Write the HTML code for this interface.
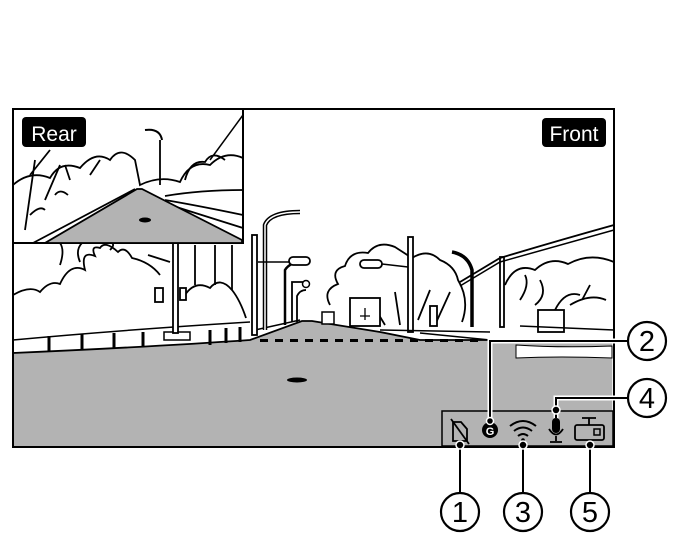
<!DOCTYPE html>
<html><head><meta charset="utf-8"><style>
html,body{margin:0;padding:0;background:#fff;}
svg{display:block}
text{font-family:"Liberation Sans",sans-serif}
</style></head><body>
<svg width="686" height="556" viewBox="0 0 686 556" xmlns="http://www.w3.org/2000/svg">
<rect x="0" y="0" width="686" height="556" fill="#fff"/>
<!-- main gray ground -->
<path d="M13 353 Q150 347 250 340 L302 321 L312 321 L380 332 L420 340 L614 340 L614 447 L13 447 Z" fill="#b3b3b3" stroke="#000" stroke-width="1.8"/>
<!-- trees main left -->
<g fill="none" stroke="#000" stroke-width="1.8">
<path d="M13 295 Q30 285 40 292 Q50 280 60 284 Q70 262 85 270 Q80 250 95 256 Q90 245 100 248 Q105 240 118 252 Q125 245 132 258 Q150 262 160 275"/>
<path d="M60 265 Q65 250 60 243 M80 262 Q75 250 82 243 M110 250 Q115 245 112 243"/>
<path d="M185 295 Q195 280 210 288 Q220 276 232 290 Q240 300 246 318"/>
<path d="M148 255 L170 262 M195 245 L195 285 M215 245 L215 285 M232 245 L232 290"/>
<path d="M330 305 Q322 290 338 284 Q330 270 345 266 Q350 250 368 253 Q378 240 395 247 L412 258 Q428 248 440 260 Q455 266 458 280 Q470 300 462 322"/>
<path d="M370 300 L385 325 M395 292 L400 325 M430 290 L418 320 M450 292 L435 325"/>
<path d="M505 285 Q515 262 535 270 Q550 256 568 264 Q590 252 614 262"/>
<path d="M520 300 Q530 285 525 275 M540 280 Q548 295 535 305"/>
<path d="M555 310 Q565 290 580 295 M570 305 Q590 293 606 300 M590 285 L582 300"/>
</g>
<!-- fence -->
<path d="M13 340 Q120 330 250 322" fill="none" stroke="#000" stroke-width="1.5"/>
<path d="M255 330 L300 320" fill="none" stroke="#000" stroke-width="1.5"/>
<g stroke="#000" stroke-width="3">
<line x1="49" y1="336" x2="49" y2="352"/><line x1="82" y1="334" x2="82" y2="350"/><line x1="114" y1="333" x2="114" y2="348"/><line x1="143" y1="332" x2="143" y2="347"/><line x1="210" y1="330" x2="210" y2="345"/><line x1="226" y1="328" x2="226" y2="343"/><line x1="240" y1="327" x2="240" y2="342"/>
</g>
<rect x="164" y="332" width="26" height="8" fill="#fff" stroke="#000" stroke-width="1.5"/>
<!-- poles -->
<g stroke="#000" stroke-width="1.8" fill="#fff">
<rect x="173" y="243" width="5" height="90"/>
<rect x="252" y="235" width="5" height="100"/>
<rect x="408" y="237" width="5" height="95"/>
<rect x="500" y="257" width="4" height="70"/>
<rect x="155" y="288" width="8" height="14"/>
<rect x="180" y="288" width="6" height="12"/>
<rect x="430" y="306" width="7" height="20"/>
</g>
<path d="M265 330 L265 225 Q270 212 300 212" fill="none" stroke="#000" stroke-width="4.5"/>
<path d="M265 330 L265 225 Q270 212 300 212" fill="none" stroke="#fff" stroke-width="1.5"/>
<path d="M285 325 L285 270 Q290 262 302 262" fill="none" stroke="#000" stroke-width="2.5"/>
<path d="M292 322 L292 282 L305 282" fill="none" stroke="#000" stroke-width="1.8"/>
<path d="M297 322 L297 296 Q300 290 306 290" fill="none" stroke="#000" stroke-width="1.8"/>
<path d="M258 262 L290 262" stroke="#000" stroke-width="1.5"/>
<rect x="289" y="257" width="21" height="8" rx="4" fill="#fff" stroke="#000" stroke-width="1.8"/>
<circle cx="306" cy="284" r="3.5" fill="#fff" stroke="#000" stroke-width="1.5"/>
<rect x="360" y="260" width="22" height="8" rx="4" fill="#fff" stroke="#000" stroke-width="1.8"/>
<path d="M382 264 L408 267" stroke="#000" stroke-width="1.5"/>
<path d="M472 327 L472 270 Q468 255 452 252" fill="none" stroke="#000" stroke-width="3.5"/>
<!-- power lines -->
<path d="M460 282 L500 258 Q560 240 614 225" fill="none" stroke="#000" stroke-width="1.8"/>
<path d="M460 286 L500 262 Q560 245 614 230" fill="none" stroke="#000" stroke-width="1.5"/>
<!-- truck / cars -->
<rect x="350" y="298" width="30" height="28" fill="#fff" stroke="#000" stroke-width="1.8"/>
<path d="M365 308 L365 320 M360 316 L370 316" stroke="#000" stroke-width="1.3"/>
<rect x="538" y="310" width="26" height="22" fill="#fff" stroke="#000" stroke-width="1.8"/>
<rect x="322" y="312" width="12" height="12" fill="#fff" stroke="#000" stroke-width="1.5"/>
<path d="M380 330 L490 332 M420 333 L490 340" stroke="#000" stroke-width="1.5" fill="none"/>
<path d="M520 326 L614 330" stroke="#000" stroke-width="1.5"/>
<!-- dashes -->
<g fill="#000">
<rect x="260" y="339" width="8" height="3"/><rect x="275" y="339" width="8" height="3"/><rect x="290" y="339" width="8" height="3"/><rect x="305" y="339" width="8" height="3"/><rect x="320" y="339" width="8" height="3"/><rect x="335" y="339" width="8" height="3"/><rect x="350" y="339" width="8" height="3"/><rect x="365" y="339" width="8" height="3"/><rect x="380" y="339" width="8" height="3"/><rect x="395" y="339" width="8" height="3"/><rect x="410" y="339" width="8" height="3"/><rect x="425" y="339" width="8" height="3"/><rect x="440" y="339" width="8" height="3"/><rect x="455" y="339" width="8" height="3"/><rect x="470" y="339" width="8" height="3"/>
</g>
<ellipse cx="297" cy="380" rx="10" ry="2.5" fill="#000"/>
<!-- white box right -->
<rect x="491" y="341" width="122" height="106" fill="none" stroke="#fff" stroke-width="1.5"/>
<path d="M516 345 Q560 348 612 346 L612 358 Q560 356 516 358 Z" fill="#fff" stroke="#000" stroke-width="1"/>
<!-- inset rear -->
<rect x="13" y="109" width="230" height="134" fill="#fff" stroke="#000" stroke-width="2"/>
<g fill="none" stroke="#000" stroke-width="1.8">
<path d="M13 185 Q30 170 50 178 Q60 160 80 168 Q95 150 110 160 Q120 145 135 160 L140 185 Q160 175 180 182 Q190 160 210 165 Q225 150 243 158"/>
<path d="M25 230 L35 160 M45 200 L60 165 M30 175 L50 150 M70 180 L65 165 M90 175 L100 160"/>
<path d="M160 140 L160 185 M165 196 Q200 190 243 190 M165 200 Q200 206 243 215 M170 205 L243 228"/>
<path d="M185 180 Q190 160 205 162 Q212 150 225 160"/>
<path d="M30 215 Q40 205 45 210 M55 195 Q60 188 68 195"/>
</g>
<path d="M145 130 Q160 128 162 140" fill="none" stroke="#000" stroke-width="2"/>
<path d="M210 160 L243 115" stroke="#000" stroke-width="1.5"/>
<path d="M137 189 L142 189 L242 240 L242 243 L45 243 Z" fill="#b3b3b3" stroke="#000" stroke-width="1.8"/>
<path d="M33 243 L135 189" stroke="#000" stroke-width="1.8"/>
<ellipse cx="145" cy="220" rx="6" ry="2.5" fill="#000"/>
<!-- main frame -->
<rect x="13" y="109" width="601" height="338" fill="none" stroke="#000" stroke-width="2"/>
<!-- labels -->
<rect x="22" y="117" width="64" height="30" rx="4" fill="#000"/>
<text x="54" y="141" font-size="21" fill="#fff" text-anchor="middle">Rear</text>
<rect x="542" y="118" width="64" height="29" rx="4" fill="#000"/>
<text x="574" y="141" font-size="21" fill="#fff" text-anchor="middle">Front</text>
<!-- status bar -->
<rect x="442" y="411" width="171" height="35" fill="#b3b3b3" stroke="#000" stroke-width="1.5"/>
<path d="M453 422 L461 422 L467 429 L467 441 L453 441 Z" fill="none" stroke="#000" stroke-width="1.8"/>
<line x1="451" y1="419" x2="469" y2="444" stroke="#000" stroke-width="1.8"/>
<circle cx="490" cy="430" r="8" fill="#000"/>
<text x="490" y="435" font-size="11" font-weight="bold" fill="#fff" text-anchor="middle">G</text>
<path d="M510 426 Q523 416 536 426 M514 431 Q523 424 532 431 M518 436 Q523 432 528 436" fill="none" stroke="#000" stroke-width="2"/>
<circle cx="523" cy="440" r="1.8" fill="#000"/>
<rect x="552" y="418" width="8" height="15" rx="4" fill="#000"/>
<path d="M549 429 Q556 440 563 429 M556 436 L556 441 M550 442 L562 442" fill="none" stroke="#000" stroke-width="1.8"/>
<path d="M582 418 L596 418 M589 418 L589 425" stroke="#000" stroke-width="1.8"/>
<rect x="575" y="425" width="29" height="15" rx="2" fill="none" stroke="#000" stroke-width="1.8"/>
<rect x="594" y="429" width="6" height="6" fill="none" stroke="#000" stroke-width="1.5"/>
<!-- leaders -->
<g stroke="#fff" stroke-width="5" fill="none">
<path d="M460 444 L460 492"/><path d="M523 444 L523 492"/><path d="M590 444 L590 492"/>
<path d="M490 422 L490 341 L627 341"/><path d="M556 418 L556 398 L627 398"/>
</g>
<g stroke="#000" stroke-width="2" fill="none">
<path d="M460 444 L460 492"/><path d="M523 444 L523 492"/><path d="M590 444 L590 492"/>
<path d="M490 422 L490 341 L627 341"/><path d="M556 418 L556 398 L627 398"/>
</g>
<g fill="#000" stroke="#fff" stroke-width="1.5">
<circle cx="460" cy="445" r="4"/><circle cx="523" cy="445" r="4"/><circle cx="590" cy="445" r="4"/><circle cx="556" cy="410" r="4"/><circle cx="490" cy="421" r="3.5"/>
</g>
<g fill="#fff" stroke="#000" stroke-width="2.2">
<circle cx="647" cy="341" r="19"/><circle cx="647" cy="398" r="19"/>
<circle cx="460" cy="512" r="19"/><circle cx="523" cy="512" r="19"/><circle cx="590" cy="512" r="19"/>
</g>
<g font-size="29" text-anchor="middle" fill="#000">
<text x="647" y="351">2</text><text x="647" y="408">4</text>
<text x="460" y="522">1</text><text x="523" y="522">3</text><text x="590" y="522">5</text>
</g>
</svg>
</body></html>
